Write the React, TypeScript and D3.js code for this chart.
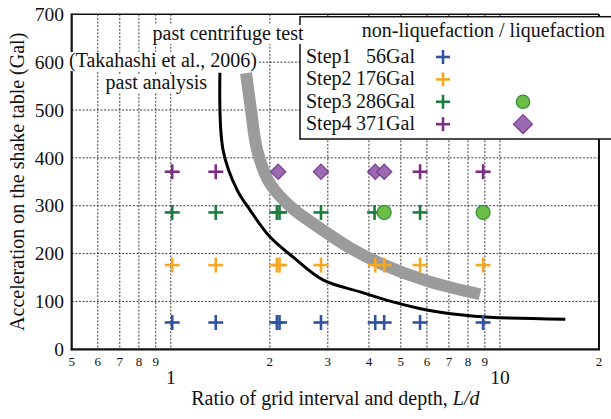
import React, { useLayoutEffect, useRef, useState } from "react";
import * as d3 from "d3";

// ---- data -------------------------------------------------------------
const stepNames = ["Step1", "Step2", "Step3", "Step4"];
const stepAccel = [56, 176, 286, 371]; // Gal
const stepColors = ["#2f52a3", "#f6a821", "#1b7d3c", "#7d2d84"];

// L/d of each case, split into non-liquefaction (+) and liquefaction (markers)
const step1NonLiq = [1.01, 1.37, 2.1, 2.14, 2.86, 4.18, 4.45, 5.72, 8.89];
const step1Liq: number[] = [];
const step2NonLiq = [1.01, 1.37, 2.1, 2.14, 2.86, 4.18, 4.45, 5.72, 8.89];
const step2Liq: number[] = [];
const step3NonLiq = [1.01, 1.37, 2.1, 2.14, 2.86, 4.16, 5.72];
const step3Liq = [4.45, 8.89];
const step4NonLiq = [1.01, 1.37, 5.72, 8.89];
const step4Liq = [2.12, 2.86, 4.18, 4.45];

// boundary from past analysis (black line)
const analysisRatio = [1.41, 1.442, 1.59, 1.741, 2.0, 2.35, 2.9, 3.76, 4.73, 6.0, 7.57, 9.3, 15.8];
const analysisAccel = [578, 416, 333, 291, 235, 193, 145, 120, 99, 82, 72, 67, 63];

// boundary from past centrifuge test (grey band)
const centrifugeRatio = [1.693, 1.753, 1.83, 1.995, 2.303, 2.84, 3.504, 4.32, 6.0, 8.7];
const centrifugeAccel = [577, 500, 416, 348, 299, 253, 212, 180, 143, 115];

// axes
const yTicks = [0, 100, 200, 300, 400, 500, 600, 700];
const yGrid = [100, 200, 300, 400, 500, 600];
const xGrid = [0.6, 0.7, 0.8, 0.9, 1, 2, 3, 4, 5, 6, 7, 8, 9, 10];
const xMinorLabels = [0.5, 0.6, 0.7, 0.8, 0.9, 2, 3, 4, 5, 6, 7, 8, 9, 20];
const xMajorLabels = [1, 10];

const FONT = "'Liberation Serif', 'Times New Roman', Times, serif";

const W = 611;
const H = 419;
const plot = { left: 71.7, right: 599, top: 14.3, bottom: 349.3 };

const x = d3.scaleLog().domain([0.5, 20]).range([plot.left, plot.right]);
const y = d3.scaleLinear().domain([0, 700]).range([plot.bottom, plot.top]);

const leadDigit = (v: number) => String(Math.round(v / Math.pow(10, Math.floor(Math.log10(v) + 1e-9))));

function Cross({ cx, cy, color, size = 7.5 }: { cx: number; cy: number; color: string; size?: number }) {
  return (
    <g stroke={color} strokeWidth={2.6}>
      <line x1={cx - size} x2={cx + size} y1={cy} y2={cy} />
      <line x1={cx} x2={cx} y1={cy - size} y2={cy + size} />
    </g>
  );
}

function Circle({ cx, cy, r = 7 }: { cx: number; cy: number; r?: number }) {
  return <circle cx={cx} cy={cy} r={r} fill="#6cbd45" stroke="#2f8f3a" strokeWidth={1.2} />;
}

function Diamond({ cx, cy, s = 7.6 }: { cx: number; cy: number; s?: number }) {
  return (
    <path
      d={`M${cx},${cy - s}L${cx + s},${cy}L${cx},${cy + s}L${cx - s},${cy}Z`}
      fill="#9a6bb1"
      stroke="#7a3b92"
      strokeWidth={1.2}
    />
  );
}

// Text drawn on a white box so grid lines stop around it
function BoxedText({ tx, ty, children }: { tx: number; ty: number; children: React.ReactNode }) {
  const ref = useRef<SVGTextElement>(null);
  const [box, setBox] = useState<{ x: number; y: number; w: number; h: number } | null>(null);
  useLayoutEffect(() => {
    if (ref.current) {
      const b = ref.current.getBBox();
      setBox({ x: b.x, y: b.y, w: b.width, h: b.height });
    }
  }, []);
  return (
    <g>
      {box && <rect x={box.x - 1} y={box.y + 3} width={box.w + 2} height={box.h - 4} fill="white" />}
      <text ref={ref} x={tx} y={ty} fontSize={20} fontFamily={FONT} fill="#111">
        {children}
      </text>
    </g>
  );
}

export default function App() {
  const steps = [
    { non: step1NonLiq, liq: step1Liq },
    { non: step2NonLiq, liq: step2Liq },
    { non: step3NonLiq, liq: step3Liq },
    { non: step4NonLiq, liq: step4Liq },
  ];

  const line = d3
    .line<[number, number]>()
    .x((d) => x(d[0]))
    .y((d) => y(d[1]))
    .curve(d3.curveCatmullRom.alpha(0.5));

  const analysisPath = line(analysisRatio.map((r, i) => [r, analysisAccel[i]]))!;
  const centrifugePath = line(centrifugeRatio.map((r, i) => [r, centrifugeAccel[i]]))!;

  const legend = { x: 300, y: 16.7, rowY0: 57, rowStep: 22.4, crossX: 443, liqX: 523 };

  return (
    <svg
      width={W}
      height={H}
      viewBox={`0 0 ${W} ${H}`}
      style={{ position: "absolute", left: 0, top: 0, background: "white" }}
      fontFamily={FONT}
    >
      <rect width={W} height={H} fill="white" />

      {/* grid */}
      <g stroke="#3a3a3a" strokeWidth={1} strokeDasharray="2 1.6">
        {yGrid.map((v) => (
          <line key={"gy" + v} x1={plot.left} x2={plot.right} y1={y(v)} y2={y(v)} />
        ))}
        {xGrid.map((v) => (
          <line key={"gx" + v} x1={x(v)} x2={x(v)} y1={plot.top} y2={plot.bottom} />
        ))}
      </g>

      {/* frame */}
      <line x1={plot.left} x2={plot.right} y1={plot.top} y2={plot.top} stroke="#111" strokeWidth={1.5} />
      <line x1={plot.right} x2={plot.right} y1={plot.top} y2={plot.bottom} stroke="#111" strokeWidth={2} />
      <line x1={plot.left} x2={plot.left} y1={plot.top - 0.7} y2={plot.bottom + 1} stroke="#111" strokeWidth={2.2} />
      <line x1={plot.left - 1} x2={plot.right + 1} y1={plot.bottom} y2={plot.bottom} stroke="#111" strokeWidth={2.2} />

      {/* y ticks */}
      <g fontSize={19.5} fill="#111" textAnchor="end">
        {yTicks.map((v) => (
          <text key={"yt" + v} x={64} y={y(v)} dy="0.34em">
            {v}
          </text>
        ))}
      </g>

      {/* x ticks */}
      <g fontSize={13} fill="#111" textAnchor="middle">
        {xMinorLabels.map((v) => (
          <text key={"xm" + v} x={x(v)} y={366}>
            {leadDigit(v)}
          </text>
        ))}
      </g>
      <g fontSize={19.5} fill="#111" textAnchor="middle">
        {xMajorLabels.map((v) => (
          <text key={"xM" + v} x={x(v)} y={383.5}>
            {v}
          </text>
        ))}
      </g>

      {/* axis titles */}
      <text x={(plot.left + plot.right) / 2} y={405} fontSize={20} textAnchor="middle" fill="#111">
        Ratio of grid interval and depth, <tspan fontStyle="italic">L/d</tspan>
      </text>
      <text
        transform={`translate(24, ${(plot.top + plot.bottom) / 2}) rotate(-90)`}
        fontSize={20}
        textAnchor="middle"
        fill="#111"
      >
        Acceleration on the shake table (Gal)
      </text>

      {/* boundaries */}
      <path d={centrifugePath} fill="none" stroke="#9b9b9b" strokeWidth={12} strokeLinecap="butt" />
      <path d={analysisPath} fill="none" stroke="#000" strokeWidth={3} />

      {/* cases */}
      {steps.map((s, i) => (
        <g key={"s" + i}>
          {s.non.map((r, j) => (
            <Cross key={"n" + j} cx={x(r)} cy={y(stepAccel[i])} color={stepColors[i]} />
          ))}
          {s.liq.map((r, j) =>
            i === 2 ? (
              <Circle key={"l" + j} cx={x(r)} cy={y(stepAccel[i])} />
            ) : (
              <Diamond key={"l" + j} cx={x(r)} cy={y(stepAccel[i])} />
            )
          )}
        </g>
      ))}

      {/* legend */}
      <g>
        <rect x={legend.x} y={legend.y} width={330} height={122.3} fill="white" stroke="#111" strokeWidth={1.5} />
        <text x={483.5} y={36.5} fontSize={20} textAnchor="middle" fill="#111">
          non-liquefaction / liquefaction
        </text>
        {stepNames.map((name, i) => {
          const cy = legend.rowY0 + i * legend.rowStep;
          return (
            <g key={"lg" + i}>
              <text x={306} y={cy + 6} fontSize={20} fill="#111">
                {name}
              </text>
              <text x={415} y={cy + 6} fontSize={20} fill="#111" textAnchor="end">
                {stepAccel[i]}Gal
              </text>
              <Cross cx={legend.crossX} cy={cy} color={stepColors[i]} size={7} />
              {i === 2 && <Circle cx={legend.liqX} cy={cy} r={6.7} />}
              {i === 3 && <Diamond cx={legend.liqX} cy={cy} s={9.5} />}
            </g>
          );
        })}
      </g>

      {/* annotations */}
      <BoxedText tx={152.5} ty={40}>past centrifuge test</BoxedText>
      <BoxedText tx={69} ty={67}>(Takahashi et al., 2006)</BoxedText>
      <BoxedText tx={105.5} ty={89}>past analysis</BoxedText>
    </svg>
  );
}
